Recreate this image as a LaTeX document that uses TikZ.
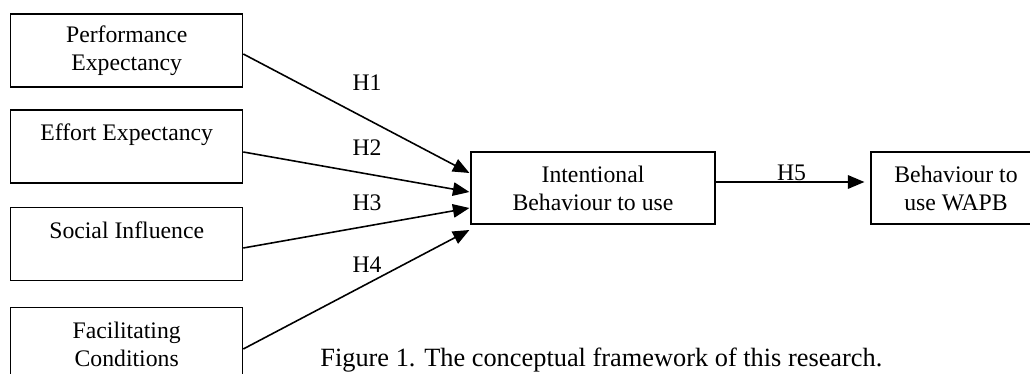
\documentclass[tikz,border=0pt]{standalone}
\usepackage{fontspec}
\setmainfont{Liberation Serif}
\usetikzlibrary{arrows.meta,positioning,calc}
\tikzset{
  box/.style={draw=black, line width=0.7pt, align=center, inner sep=0pt, minimum width=4.64cm, minimum height=1.46cm, font=\fontsize{13.5}{15.93}\selectfont},
  arrow/.style={-{Triangle[length=3.3mm,width=2.7mm]}, line width=0.9pt},
  hlabel/.style={inner sep=0pt, font=\fontsize{13.5}{15.93}\selectfont},
  caption/.style={inner sep=0pt, font=\fontsize{15}{15.93}\selectfont}
}
\begin{document}
\begin{tikzpicture}[x=0.02cm, y=-0.02cm]
\useasboundingbox (0,0) rectangle (1030,374);
% constructs
\node[box] (pe) at (126.7,50.5) {Performance\\Expectancy};
\node[box] (ee) at (126.7,146.5) {Effort Expectancy\\\mbox{}};
\node[box] (si) at (126.7,244) {Social Influence\\\mbox{}};
\node[box] (fc) at (126.7,344) {Facilitating\\Conditions};
\node[box, minimum width=4.88cm, minimum height=1.44cm] (intent) at (593,188) {Intentional\\Behaviour to use};
\node[box, minimum width=3.4cm, minimum height=1.44cm] (beh) at (956,188) {Behaviour to\\use WAPB};
% hypotheses
\draw[arrow] ([yshift=-0.07cm]pe.east) -- ([xshift=-0.02cm,yshift=0.30cm]intent.west);
\draw[arrow] ([yshift=-0.11cm]ee.east) -- ([xshift=-0.02cm,yshift=-0.08cm]intent.west);
\draw[arrow] ([yshift=-0.08cm]si.east) -- ([xshift=-0.02cm,yshift=-0.40cm]intent.west);
\draw[arrow] ([yshift=-0.10cm]fc.east) -- ([xshift=-0.02cm,yshift=-0.84cm]intent.west);
\draw[arrow] ([yshift=0.12cm]intent.east) -- ([xshift=-0.12cm,yshift=0.12cm]beh.west);
\node[hlabel] (h1) at (367,83) {H1};
\node[hlabel] (h2) at (367,148) {H2};
\node[hlabel] (h3) at (367,203) {H3};
\node[hlabel] (h4) at (367,265) {H4};
\node[hlabel] (h5) at (791.5,173) {H5};
\node[caption, anchor=base west] (cap) at (320,367) {Figure 1. The conceptual framework of this research.};
\end{tikzpicture}
\end{document}
